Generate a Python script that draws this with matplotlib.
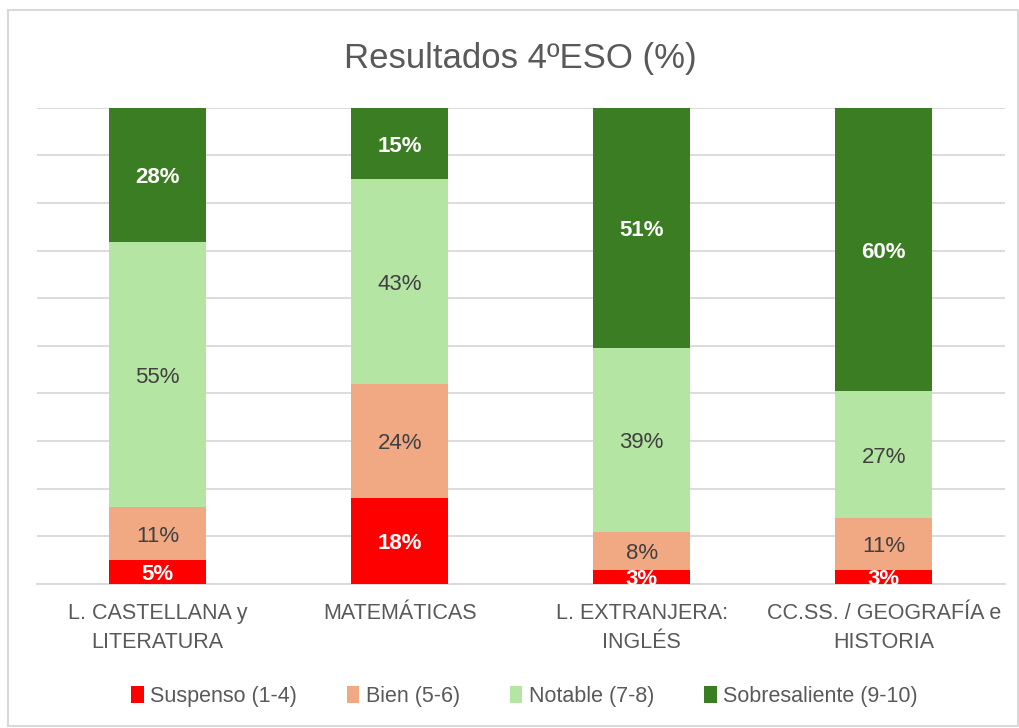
import matplotlib.pyplot as plt
import numpy as np

plt.rcParams['font.family'] = ['Liberation Sans', 'DejaVu Sans']

categories = ["L. CASTELLANA y\nLITERATURA", "MATEMÁTICAS",
              "L. EXTRANJERA:\nINGLÉS", "CC.SS. / GEOGRAFÍA e\nHISTORIA"]
series = ["Suspenso (1-4)", "Bien (5-6)", "Notable (7-8)", "Sobresaliente (9-10)"]
suspenso = [5, 18, 3, 3]
bien = [11, 24, 8, 11]
notable = [55, 43, 39, 27]
sobresaliente = [28, 15, 51, 60]

colors = ['#FF0000', '#F1A983', '#B4E5A2', '#3B7D23']
label_colors = ['white', '#404040', '#404040', 'white']
label_weights = ['bold', 'normal', 'normal', 'bold']

data = np.array([suspenso, bien, notable, sobresaliente], dtype=float)
totals = data.sum(axis=0)
shares = data / totals * 100

fig = plt.figure(figsize=(10.2, 7.28), dpi=100)
ax = fig.add_axes([0.036, 0.198, 0.949, 0.654])

x = np.arange(len(categories))
bottom = np.zeros(len(categories))
for i, name in enumerate(series):
    ax.bar(x, shares[i], bottom=bottom, width=0.4, color=colors[i],
           label=name, zorder=3)
    for j in range(len(categories)):
        ax.text(x[j], bottom[j] + shares[i][j] / 2 - 0.6, f"{data[i][j]:.0f}%",
                ha='center', va='center', fontsize=16, color=label_colors[i],
                fontweight=label_weights[i], zorder=4)
    bottom += shares[i]

ax.set_xlim(-0.5, len(categories) - 0.5)
ax.set_ylim(0, 100)
ax.set_yticks(np.arange(0, 101, 10))
ax.set_yticklabels([])
ax.tick_params(axis='y', length=0)
ax.tick_params(axis='x', length=0, pad=14, labelsize=15.5, labelcolor='#595959')
ax.set_xticks(x)
ax.set_xticklabels(categories, linespacing=1.5)
ax.grid(axis='y', color='#D9D9D9', linewidth=1.3, zorder=0)
for s in ['top', 'right', 'left']:
    ax.spines[s].set_visible(False)
ax.spines['bottom'].set_color('#D9D9D9')
ax.spines['bottom'].set_linewidth(1.3)

fig.text(0.51, 0.92, "Resultados 4ºESO (%)", ha='center', va='center',
         fontsize=25, color='#595959')

leg = fig.legend(loc='center', bbox_to_anchor=(0.514, 0.043), ncol=4,
                 frameon=False, fontsize=15.5, handlelength=0.6,
                 handleheight=0.8, handletextpad=0.3, columnspacing=2.3)
for t in leg.get_texts():
    t.set_color('#595959')

border = plt.Rectangle((0.008, 0.003), 0.99, 0.983, transform=fig.transFigure,
                       fill=False, edgecolor='#D9D9D9', linewidth=1.5)
fig.patches.append(border)

fig.savefig('out.png', dpi=100)
